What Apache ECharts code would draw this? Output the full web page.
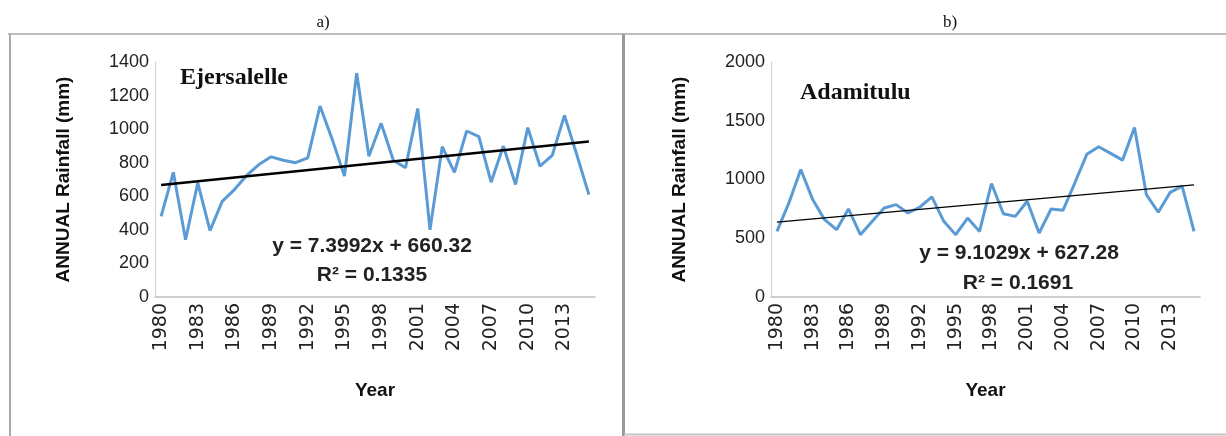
<!DOCTYPE html>
<html>
<head>
<meta charset="utf-8">
<script src="https://cdn.jsdelivr.net/npm/echarts@6/dist/echarts.min.js"></script>
<style>
html,body{margin:0;padding:0;background:#fff;}
#chart{width:1226px;height:436px;}
</style>
</head>
<body>
<div id="chart"></div>
<script>
const years = [];
for (let y = 1980; y <= 2015; y++) years.push(String(y));

const ejersalelle = [480, 743, 341, 680, 395, 570, 640, 724, 789, 835, 815, 800, 829, 1138, 939, 720, 1334, 839, 1035, 815, 770, 1122, 400, 895, 743, 989, 955, 684, 899, 670, 1009, 779, 843, 1082, 850, 610];
const adamitulu = [558, 801, 1085, 829, 658, 573, 749, 530, 644, 758, 786, 715, 766, 852, 644, 530, 672, 558, 966, 709, 686, 815, 544, 749, 738, 972, 1214, 1279, 1222, 1165, 1442, 872, 721, 891, 943, 558];

const trendA = { slope: 7.3992, intercept: 660.32, r2: '0.1335' };
const trendB = { slope: 9.1029, intercept: 627.28, r2: '0.1691' };

const leftTicks = { min: 0, max: 1400, interval: 200 };
const rightTicks = { min: 0, max: 2000, interval: 500 };

const chart = echarts.init(document.getElementById('chart'));

function trendMark(t, width) {
  const n = years.length;
  return {
    silent: true,
    symbol: ['none', 'none'],
    label: { show: false },
    lineStyle: { color: '#000', width: width, type: 'solid' },
    data: [[
      { coord: [years[0], t.intercept + t.slope * 1] },
      { coord: [years[n - 1], t.intercept + t.slope * n] }
    ]]
  };
}

const axisLabelY = { color: '#222', fontFamily: 'Liberation Sans', fontSize: 18, margin: 6, formatter: v => String(v) };
const axisLabelX = { color: '#222', fontFamily: 'DejaVu Sans', fontSize: 19, rotate: 90, interval: 2, margin: 6 };
const nameStyle = { color: '#111', fontFamily: 'Liberation Sans', fontWeight: 'bold', fontSize: 19 };

const option = {
  backgroundColor: '#fff',
  animation: false,
  title: [
    { text: 'a)', left: 318, top: 9, textAlign: 'center', textStyle: { fontFamily: 'Liberation Serif', fontWeight: 'normal', fontSize: 17, color: '#111' } },
    { text: 'b)', left: 945, top: 9, textAlign: 'center', textStyle: { fontFamily: 'Liberation Serif', fontWeight: 'normal', fontSize: 17, color: '#111' } },
    { text: 'Ejersalelle', left: 175, top: 61, textStyle: { fontFamily: 'Liberation Serif', fontWeight: 'bold', fontSize: 24, color: '#111' } },
    { text: 'Adamitulu', left: 795, top: 76, textStyle: { fontFamily: 'Liberation Serif', fontWeight: 'bold', fontSize: 24, color: '#111' } },
    { text: 'y = ' + trendA.slope + 'x + ' + trendA.intercept.toFixed(2), left: 367, top: 231, textAlign: 'center', textStyle: { fontFamily: 'Liberation Sans', fontWeight: 'bold', fontSize: 21, color: '#222' } },
    { text: 'R² = ' + trendA.r2, left: 367, top: 260, textAlign: 'center', textStyle: { fontFamily: 'Liberation Sans', fontWeight: 'bold', fontSize: 21, color: '#222' } },
    { text: 'y = ' + trendB.slope + 'x + ' + trendB.intercept.toFixed(2), left: 1014, top: 238, textAlign: 'center', textStyle: { fontFamily: 'Liberation Sans', fontWeight: 'bold', fontSize: 21, color: '#222' } },
    { text: 'R² = ' + trendB.r2, left: 1013, top: 268, textAlign: 'center', textStyle: { fontFamily: 'Liberation Sans', fontWeight: 'bold', fontSize: 21, color: '#222' } }
  ],
  graphic: [
    { type: 'line', shape: { x1: 8, y1: 34, x2: 1226, y2: 34 }, style: { stroke: '#bdbdbd', lineWidth: 2 }, silent: true },
    { type: 'line', shape: { x1: 10, y1: 34, x2: 10, y2: 436 }, style: { stroke: '#aaaaaa', lineWidth: 2 }, silent: true },
    { type: 'line', shape: { x1: 623.5, y1: 34, x2: 623.5, y2: 436 }, style: { stroke: '#999999', lineWidth: 3 }, silent: true },
    { type: 'line', shape: { x1: 624, y1: 434.5, x2: 1226, y2: 434.5 }, style: { stroke: '#c4c4c4', lineWidth: 2 }, silent: true }
  ],
  grid: [
    { left: 155, right: 631, top: 62, bottom: 139 },
    { left: 771, right: 26, top: 62, bottom: 139 }
  ],
  xAxis: [0, 1].map(i => ({
    type: 'category', gridIndex: i, data: years, boundaryGap: true,
    name: 'Year', nameLocation: 'middle', nameGap: 84, nameTextStyle: nameStyle,
    axisLine: { show: true, lineStyle: { color: '#bfbfbf', width: 1.5 } },
    axisTick: { show: false },
    axisLabel: axisLabelX,
    splitLine: { show: false }
  })),
  yAxis: [
    Object.assign({ type: 'value', gridIndex: 0 }, leftTicks),
    Object.assign({ type: 'value', gridIndex: 1 }, rightTicks)
  ].map(a => Object.assign(a, {
    name: 'ANNUAL Rainfall (mm)', nameLocation: 'middle', nameGap: 82, nameRotate: 90, nameTextStyle: nameStyle,
    axisLine: { show: true, lineStyle: { color: '#d0d0d0', width: 1 } },
    axisTick: { show: false },
    axisLabel: axisLabelY,
    splitLine: { show: false }
  })),
  series: [
    { type: 'line', xAxisIndex: 0, yAxisIndex: 0, data: ejersalelle, symbol: 'none', lineStyle: { color: '#5b9bd5', width: 3 }, markLine: trendMark(trendA, 2.5), z: 2 },
    { type: 'line', xAxisIndex: 1, yAxisIndex: 1, data: adamitulu, symbol: 'none', lineStyle: { color: '#5b9bd5', width: 3 }, markLine: trendMark(trendB, 1.3), z: 2 }
  ]
};
chart.setOption(option);
</script>
</body>
</html>
